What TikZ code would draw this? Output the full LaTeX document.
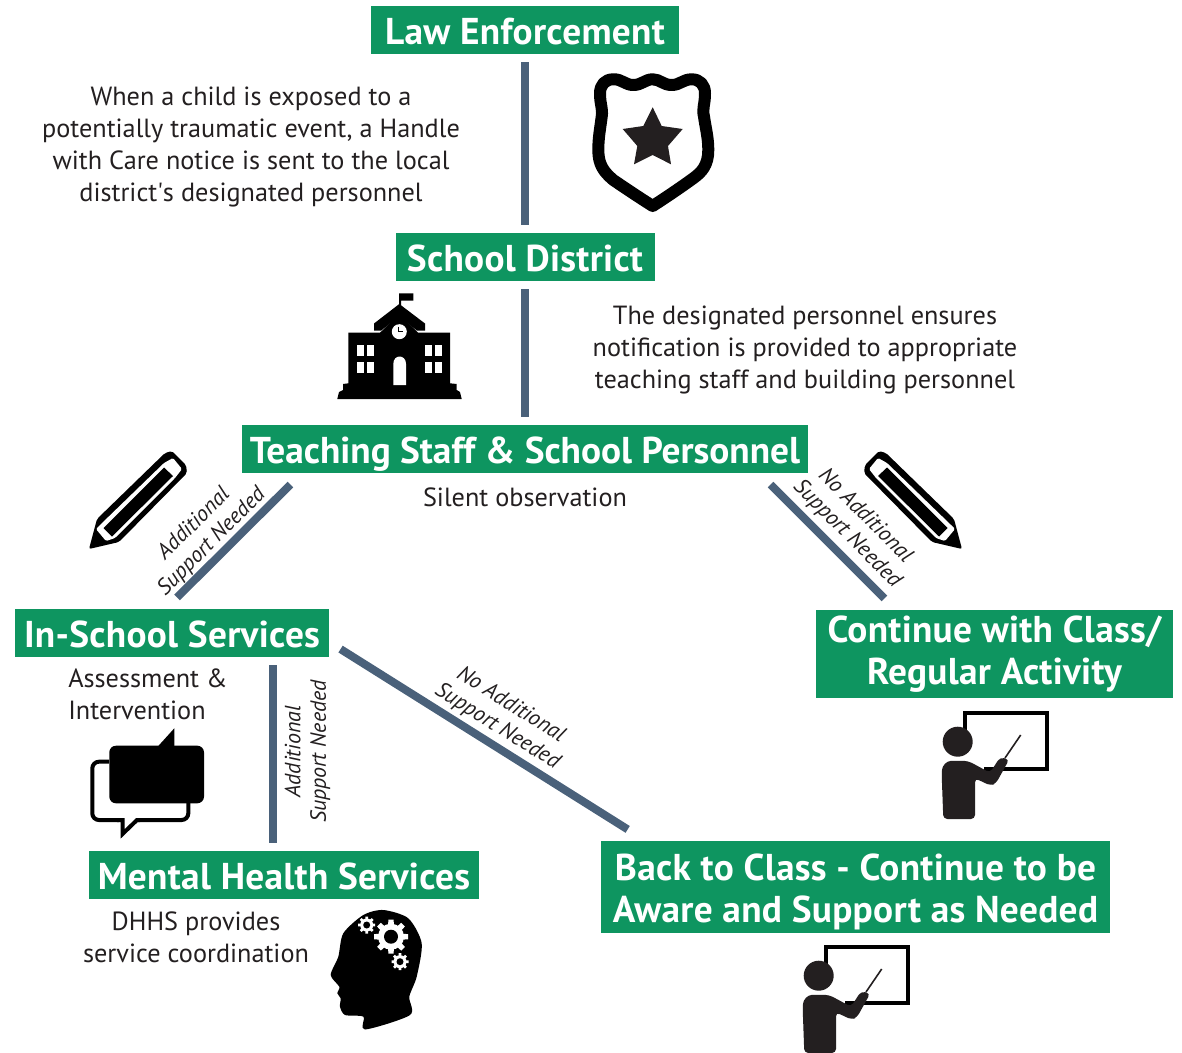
\documentclass[tikz,border=0pt]{standalone}
\usepackage{fontspec}
\setmainfont{PT Sans}
\usetikzlibrary{calc}
\definecolor{boxgreen}{RGB}{14,149,96}
\definecolor{barblue}{RGB}{74,97,122}
\definecolor{inkgrey}{RGB}{35,31,32}
\tikzset{
  headbox/.style={fill=boxgreen,text=white,inner sep=0pt,align=center,font=\fontsize{28}{31.5}\selectfont\bfseries\addfontfeature{LetterSpace=0.8}},
  oneline/.style={minimum height=36pt,text height=28.5pt,text depth=7.5pt},
  bodytext/.style={text=inkgrey,inner sep=0pt,align=center,font=\fontsize{19.7}{24}\selectfont},
  barlabel/.style={text=inkgrey,inner sep=0pt,align=center,font=\fontsize{16.5}{19}\selectfont\itshape},
  bar/.style={draw=barblue,line width=6pt,shorten >=6pt,shorten <=6pt},
  diagbar/.style={draw=barblue,line width=6pt,shorten >=12pt,shorten <=12pt},
  pencil/.pic={
    \fill[black,rounded corners=1.5] (89,549) -- (97,519) -- (165,453) -- (172,451) -- (186,465) -- (187,473) -- (119,542) -- cycle;
    \fill[white,rounded corners=1] (96,529) -- (101,524) -- (164,463) -- (173,458) -- (182,469) -- (175,478) -- (115,538) -- (106,541) -- cycle;
    \fill[black] (103.5,528) -- (164,467.5) -- (173,476) -- (112,536.5) -- cycle;
  },
  teacher/.pic={
    \draw[black,line width=2.6pt] (965,730) -- (965,713) -- (1047,713) -- (1047,769) -- (984,769);
    \fill[inkgrey] (957.7,741.7) circle [radius=15];
    \fill[inkgrey,rounded corners=3] (943.3,819) -- (941.7,775) .. controls (942,765) and (947,761) .. (955,760.7) -- (968.3,761) -- (990,772.7) -- (1000,757.3) -- (1009.3,759.3) -- (996,783.3) -- (990.7,785.7) -- (975,778.3) -- (975,819) -- cycle;
    \draw[inkgrey,line width=1.2pt] (1005,758) -- (1020.7,735);
  },
  gear/.pic={
    \fill[white] (0,0) circle [radius=13];
    \foreach \a in {0,45,...,315}
      \fill[white,rotate=\a] (-3.6,0) -- (-2.6,17) -- (2.6,17) -- (3.6,0) -- cycle;
    \fill[black] (0,0) circle [radius=7];
  }
}
\begin{document}
\begin{tikzpicture}[x=0.75pt,y=0.75pt,yscale=-1,xscale=1]
\useasboundingbox (0,0) rectangle (1182,1053);

% Text Node
\node[headbox,oneline,minimum width=231pt] (law) at (525,30) {Law Enforcement};
\node[headbox,oneline,minimum width=194.25pt] (district) at (525,257) {School District};
\node[headbox,oneline,minimum width=424.5pt] (staff) at (525,449) {\addfontfeature{LetterSpace=0}Teaching Staff \& School Personnel};
\node[headbox,oneline,minimum width=235.5pt] (inschool) at (172,633) {In-School Services};
\node[headbox,minimum width=267.75pt,minimum height=66pt] (continue) at (994.5,654) {Continue with Class/\\Regular Activity};
\node[headbox,minimum width=381.75pt,minimum height=69pt] (back) at (855.5,887) {\rule{0pt}{28pt}Back to Class - Continue to be\\Aware and Support as Needed};
\node[headbox,oneline,minimum width=292.5pt] (mental) at (284,875) {Mental Health Services};

% Text Node
\node[bodytext] (notice) at (251,147) {When a child is exposed to a\\potentially traumatic event, a Handle\\with Care notice is sent to the local\\district\textquotesingle s designated personnel};
\node[bodytext] (ensure) at (805,350) {The designated personnel ensures\\notification is provided to appropriate\\teaching staff and building personnel};
\node[bodytext] (silent) at (525,497.5) {Silent observation};
\node[bodytext,align=left,anchor=west] (assess) at (68,694) {Assessment \&\\Intervention};
\node[bodytext] (dhhs) at (196,937) {DHHS provides\\service coordination};

%Straight Lines
\draw[bar] (law) -- (district);
\draw[bar] (district) -- (staff);
\draw[diagbar] ($(staff.south west)+(60,0)$) -- ($(inschool.north west)+(151,0)$);
\draw[diagbar] ($(staff.south east)+(-49,0)$) -- ($(continue.north west)+(80,0)$);
\draw[diagbar,shorten <=10pt,shorten >=16pt] ($(inschool.east)+(0,9)$) -- ($(back.north west)+(45,0)$);
\draw[bar] (inschool.south -| 273,0) -- (mental.north -| 273,0);

% Text Node
\node[barlabel,rotate=45] (addone) at (203,533) {Additional\\Support Needed};
\node[barlabel,rotate=-45] (noone) at (856,525) {No Additional\\Support Needed};
\node[barlabel,rotate=-32] (notwo) at (504,716) {No Additional\\Support Needed};
\node[barlabel,rotate=90] (addtwo) at (307.5,751.5) {Additional\\Support Needed};

%Shape: Shield
\draw[black,line width=9pt,line join=round] (613.3,79.3) .. controls (622,79) and (625,85) .. (633.3,85) .. controls (642,85) and (645,79.3) .. (652.7,79.3) .. controls (660,79.3) and (663,85) .. (671.7,85) .. controls (680,85) and (683,79.3) .. (691.7,79.3) .. controls (700,79.3) and (705,85) .. (705,93.3) .. controls (705,105) and (702,108) .. (704,116.7) .. controls (706,130) and (708.3,138) .. (708.3,150) .. controls (708.3,165) and (702,172) .. (693.3,178.3) .. controls (680,188) and (665,198) .. (652.7,206) .. controls (640,198) and (625,188) .. (613.3,180) .. controls (604,172) and (598.3,165) .. (598.3,150) .. controls (598.3,138) and (600,130) .. (601.7,116.7) .. controls (603,108) and (600,105) .. (600,93.3) .. controls (600,85) and (605,79.3) .. (613.3,79.3) -- cycle;
\fill[inkgrey] (652.7,107.3) -- (661.7,126) -- (682.7,129) -- (668,146) -- (671,164.3) -- (652.7,155) -- (634,164.3) -- (637.3,146) -- (622.7,129) -- (643.3,126) -- cycle;

%Shape: School
\fill[black] (399,293.3) rectangle (413.3,300.7) (399,293.3) rectangle (401,308);
\fill[black] (399.3,304) -- (425,323.5) -- (425,330.7) -- (417,330.7) -- (399.3,316) -- (381,330.7) -- (374,330.7) -- (374,323.5) -- cycle;
\fill[black] (399.3,314) -- (418,332.7) -- (450,332.7) -- (450,383.3) -- (456.7,384) -- (456.7,390) -- (460,392) -- (461.7,399) -- (337.3,399) -- (339,392) -- (343,390) -- (343,384) -- (348.3,383.3) -- (348.3,332.7) -- (380,332.7) -- cycle;
\fill[white] (399.3,331.7) circle [radius=7.5];
\draw[black,line width=0.8pt] (398.8,326.5) -- (398.8,331.8) -- (403,331.8);
\foreach \wx in {357.3,367.3,424.7,434.7}
  \foreach \wy in {345,361.7}
    \fill[white] (\wx,\wy) rectangle +(7,11.3);
\fill[white] (393.3,385) -- (393.3,364) .. controls (393.3,354) and (406,354) .. (406,364) -- (406,385) -- cycle;

%Shape: Pencils
\pic[transform shape] at (0,0) {pencil};
\pic[transform shape,xscale=-1] at (1051,0) {pencil};

%Shape: Speech bubbles
\draw[black,line width=3pt,rounded corners=5] (109,761.7) -- (92.3,761.7) -- (92.3,820) -- (119,820);
\draw[black,line width=3pt,rounded corners=5] (138,820) -- (188.3,820) -- (188.3,800);
\draw[black,line width=3pt,miter limit=8] (117,820) -- (122.5,820) -- (122.5,834) -- (137,820) -- (140,820);
\fill[black,rounded corners=5] (109.3,745.7) rectangle (204,803.3);
\fill[black] (158.3,746) -- (174.3,728.3) -- (174.3,746) -- cycle;

%Shape: Head
\fill[black] plot[smooth cycle,tension=0.45] coordinates {(365,1029.5) (363.3,1016.7) (345,1015) (340,1006.7) (340.7,998.3) (337.3,993.3) (339.3,986.7) (330.7,975) (338.3,956.7) (343.3,933.3) (363.3,915) (383.3,910) (408.3,918.3) (421.7,943.3) (416.7,976.7) (409.3,996.7) (410,1015)};
\pic[scale=1] at (391,936.7) {gear};
\pic[scale=0.5] at (366.7,925) {gear};
\pic[scale=0.5] at (400,961.7) {gear};

%Shape: Teachers
\pic[transform shape] at (0,0) {teacher};
\pic[transform shape] at (-139,234) {teacher};

\end{tikzpicture}
\end{document}
